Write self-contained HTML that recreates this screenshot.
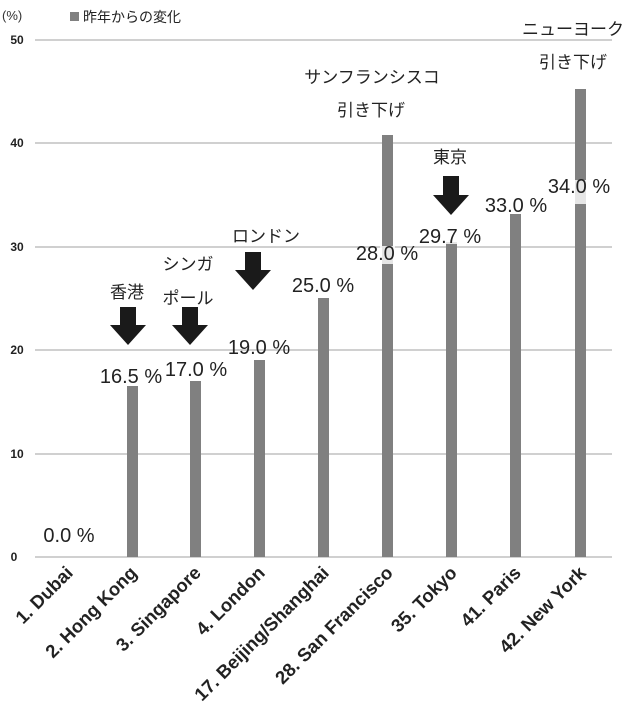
<!DOCTYPE html>
<html><head><meta charset="utf-8"><style>body{margin:0;background:#fff}svg{display:block}</style></head><body>
<svg width="640" height="708" xmlns="http://www.w3.org/2000/svg" font-family="Liberation Sans, Noto Sans CJK JP, sans-serif">
<rect width="640" height="708" fill="#fff"/>
<g stroke="#d0d0d0" stroke-width="2">
<line x1="35" x2="612" y1="40" y2="40"/><line x1="35" x2="612" y1="143" y2="143"/><line x1="35" x2="612" y1="247" y2="247"/><line x1="35" x2="612" y1="350" y2="350"/><line x1="35" x2="612" y1="454" y2="454"/><line x1="35" x2="612" y1="557" y2="557"/>
</g>
<g font-size="12" font-weight="bold" fill="#222" text-anchor="middle">
<text x="17" y="44">50</text><text x="17" y="147">40</text><text x="17" y="251">30</text><text x="17" y="354">20</text><text x="17" y="458">10</text><text x="14" y="561">0</text>
</g>
<text x="2" y="20" font-size="13" fill="#333">(%)</text>
<rect x="70" y="12" width="9" height="9" fill="#808080"/>
<text x="83" y="22" font-size="14" fill="#222">昨年からの変化</text>
<g fill="#808080">
<rect x="127" y="386" width="11" height="171"/><rect x="190" y="381" width="11" height="176"/><rect x="254" y="360" width="11" height="197"/><rect x="318" y="298" width="11" height="259"/><rect x="382" y="135" width="11" height="422"/><rect x="446" y="242" width="11" height="315"/><rect x="510" y="214" width="11" height="343"/><rect x="575" y="89" width="11" height="468"/>
</g>
<g font-size="20" fill="#222" text-anchor="middle">
<text x="69" y="542">0.0 %</text><text x="131" y="383">16.5 %</text><text x="196" y="376">17.0 %</text><text x="259" y="354">19.0 %</text><text x="323" y="292">25.0 %</text>
<rect x="380" y="246" width="15" height="18" fill="#fff" opacity="0.8"/><text x="387" y="260">28.0 %</text>
<rect x="444" y="228" width="15" height="16" fill="#fff" opacity="0.8"/><text x="450" y="243">29.7 %</text>
<text x="516" y="212">33.0 %</text>
<rect x="573" y="180" width="15" height="24" fill="#fff" opacity="0.8"/><text x="579" y="193">34.0 %</text>
</g>
<g font-size="17" fill="#222" text-anchor="middle">
<text x="127" y="298">香港</text><text x="188" y="270">シンガ</text><text x="188" y="304">ポール</text><text x="266" y="242">ロンドン</text>
<text x="372" y="83">サンフランシスコ</text><text x="371" y="116">引き下げ</text><text x="450" y="163">東京</text>
<text x="573" y="35">ニューヨーク</text><text x="573" y="68">引き下げ</text>
</g>
<g fill="#1a1a1a">
<polygon points="120,307 136,307 136,325 146,325 128,345 110,325 120,325"/>
<polygon points="182,307 198,307 198,325 208,325 190,345 172,325 182,325"/>
<polygon points="245,252 261,252 261,270 271,270 253,290 235,270 245,270"/>
<polygon points="443,176 459,176 459,195 469,195 451,215 433,195 443,195"/>
</g>
<g font-size="18.5" font-weight="bold" fill="#222" text-anchor="end">
<text transform="translate(74,574) rotate(-45)">1. Dubai</text>
<text transform="translate(138,574) rotate(-45)">2. Hong Kong</text>
<text transform="translate(202,574) rotate(-45)">3. Singapore</text>
<text transform="translate(266,574) rotate(-45)">4. London</text>
<text transform="translate(330,574) rotate(-45)">17. Beijing/Shanghai</text>
<text transform="translate(394,574) rotate(-45)">28. San Francisco</text>
<text transform="translate(458,574) rotate(-45)">35. Tokyo</text>
<text transform="translate(522,574) rotate(-45)">41. Paris</text>
<text transform="translate(587,574) rotate(-45)">42. New York</text>
</g>
</svg>
</body></html>
